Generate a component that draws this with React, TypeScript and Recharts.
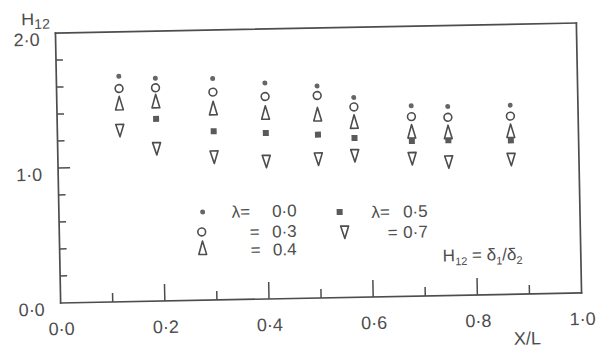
import React from "react";
import { ScatterChart, Scatter, XAxis, YAxis } from "recharts";

// measuring stations along the plate
const stations = [0.12, 0.19, 0.3, 0.4, 0.5, 0.57, 0.68, 0.75, 0.87];

// H12 for each lambda
const lambda00 = [1.67, 1.65, 1.64, 1.6, 1.57, 1.48, 1.41, 1.4, 1.4];
const lambda03 = [1.58, 1.58, 1.54, 1.5, 1.5, 1.41, 1.33, 1.32, 1.32];
const lambda04 = [1.47, 1.48, 1.42, 1.38, 1.36, 1.3, 1.22, 1.21, 1.21];
const lambda05 = [null, 1.35, 1.25, 1.23, 1.21, 1.18, 1.15, 1.15, 1.14];
const lambda07 = [1.27, 1.13, 1.06, 1.02, 1.03, 1.05, 1.02, 0.99, 1.0];

const xTicks = [0, 0.1, 0.2, 0.3, 0.4, 0.5, 0.6, 0.7, 0.8, 0.9, 1];
const xTickLabels = ["0·0", "", "0·2", "", "0·4", "", "0·6", "", "0·8", "", "1·0"];
const yTicks = [0, 0.2, 0.4, 0.6, 0.8, 1, 1.2, 1.4, 1.6, 1.8, 2];
const yTickLabels = ["0·0", "", "", "", "", "1·0", "", "", "", "", "2·0"];

const ink = "#4d4d4d";
const font = "'Liberation Sans', Arial, sans-serif";
const L = 50;
const T = 20;

const toPoints = (ys: (number | null)[]) =>
  stations.map((x, i) => ({ x, y: ys[i] })).filter((p) => p.y != null);

const Dot = ({ cx, cy }: any) => <circle cx={cx} cy={cy} r={2.5} fill="#666" />;
const Ring = ({ cx, cy }: any) => (
  <circle cx={cx} cy={cy} r={3.9} fill="none" stroke={ink} strokeWidth={1.6} />
);
const Tri = ({ cx, cy }: any) => (
  <path
    d={`M${cx},${cy - 7} L${cx + 3.9},${cy + 6.5} L${cx - 3.9},${cy + 6.5} Z`}
    fill="none"
    stroke={ink}
    strokeWidth={1.6}
    strokeLinejoin="round"
  />
);
const Sq = ({ cx, cy }: any) => (
  <rect x={cx - 3} y={cy - 3} width={6} height={6} fill="#5a5a5a" />
);
const InvTri = ({ cx, cy }: any) => (
  <path
    d={`M${cx - 4},${cy - 6} L${cx + 4},${cy - 6} L${cx},${cy + 6.5} Z`}
    fill="none"
    stroke={ink}
    strokeWidth={1.6}
    strokeLinejoin="round"
  />
);

const txt = { fontFamily: font, fontSize: 18, fill: ink };
const leg = { fontFamily: font, fontSize: 17, fill: ink };

const BottomTick = ({ x, y, index }: any) => {
  const len = index === 0 || index === 10 ? 0 : index % 2 === 0 ? 17 : 9;
  return (
    <g>
      {len > 0 && <line x1={x} x2={x} y1={y} y2={y - len} stroke={ink} strokeWidth={1.5} />}
      <text x={x + 0.5} y={y + 32} textAnchor="middle" {...txt}>
        {xTickLabels[index]}
      </text>
    </g>
  );
};

const TopTick = ({ x, y, index }: any) => {
  const len = index === 0 || index === 10 ? 0 : index % 2 === 0 ? 15 : 9;
  return len > 0 ? <line x1={x} x2={x} y1={y} y2={y + len} stroke={ink} strokeWidth={1.5} /> : <g />;
};

const LeftTick = ({ x, y, index }: any) => {
  const len = index === 0 || index === 10 ? 0 : index === 5 ? 12 : 7;
  return (
    <g>
      {len > 0 && <line x1={x} x2={x + len} y1={y} y2={y} stroke={ink} strokeWidth={1.5} />}
      <text x={x - 16} y={y + 12.5} textAnchor="end" {...txt}>
        {yTickLabels[index]}
      </text>
    </g>
  );
};

const RightTick = ({ x, y, index }: any) => {
  const len = index === 0 || index === 10 ? 0 : index === 5 ? 15 : 12;
  return len > 0 ? <line x1={x} x2={x - len} y1={y} y2={y} stroke={ink} strokeWidth={1.5} /> : <g />;
};

const axisLine = { stroke: ink, strokeWidth: 1.7, strokeLinecap: "square" as const };

export default function App() {
  return (
    <div style={{ position: "fixed", left: 0, top: 0, width: 606, height: 351, overflow: "hidden", background: "#fff" }}>
      <div style={{ position: "absolute", left: 8, top: 8, transform: "rotate(-1.1deg)", transformOrigin: "310.5px 155px" }}>
        <ScatterChart width={590} height={343} margin={{ top: T - 1, right: 18, bottom: 52, left: L - 1 }}>
          <XAxis
            xAxisId="b"
            type="number"
            dataKey="x"
            domain={[0, 1]}
            ticks={xTicks}
            interval={0}
            height={1}
            tickSize={0}
            tickMargin={0}
            tickLine={false}
            axisLine={axisLine}
            tick={BottomTick}
          />
          <XAxis
            xAxisId="t"
            orientation="top"
            type="number"
            domain={[0, 1]}
            ticks={xTicks}
            interval={0}
            height={1}
            tickSize={0}
            tickMargin={0}
            tickLine={false}
            axisLine={axisLine}
            tick={TopTick}
          />
          <YAxis
            yAxisId="l"
            type="number"
            dataKey="y"
            domain={[0, 2]}
            ticks={yTicks}
            interval={0}
            width={1}
            tickSize={0}
            tickMargin={0}
            tickLine={false}
            axisLine={axisLine}
            tick={LeftTick}
          />
          <YAxis
            yAxisId="r"
            orientation="right"
            type="number"
            domain={[0, 2]}
            ticks={yTicks}
            interval={0}
            width={1}
            tickSize={0}
            tickMargin={0}
            tickLine={false}
            axisLine={axisLine}
            tick={RightTick}
          />
          <Scatter xAxisId="b" yAxisId="l" name="λ = 0·0" data={toPoints(lambda00)} shape={Dot} isAnimationActive={false} />
          <Scatter xAxisId="b" yAxisId="l" name="= 0·3" data={toPoints(lambda03)} shape={Ring} isAnimationActive={false} />
          <Scatter xAxisId="b" yAxisId="l" name="= 0.4" data={toPoints(lambda04)} shape={Tri} isAnimationActive={false} />
          <Scatter xAxisId="b" yAxisId="l" name="λ = 0·5" data={toPoints(lambda05)} shape={Sq} isAnimationActive={false} />
          <Scatter xAxisId="b" yAxisId="l" name="= 0·7" data={toPoints(lambda07)} shape={InvTri} isAnimationActive={false} />

          {/* axis titles */}
          <text x={L - 34} y={T - 8.5} {...txt}>
            H<tspan fontSize={14} dy={4}>12</tspan>
          </text>
          <text x={L + 466} y={T + 270 + 50.5} textAnchor="middle" {...txt}>
            X/L
          </text>

          {/* legend */}
          <g>
            <Dot cx={L + 143.7} cy={T + 181.7} />
            <text x={L + 172.7} y={T + 188} {...leg}>λ=</text>
            <text x={L + 237.7} y={T + 188} textAnchor="end" {...leg}>0·0</text>
            <Ring cx={L + 142.4} cy={T + 201.7} />
            <text x={L + 190.4} y={T + 208.5} {...leg}>=</text>
            <text x={L + 237.4} y={T + 208.5} textAnchor="end" {...leg}>0·3</text>
            <Tri cx={L + 143} cy={T + 217.7} />
            <text x={L + 190.9} y={T + 226.5} {...leg}>=</text>
            <text x={L + 237} y={T + 226.5} textAnchor="end" {...leg}>0.4</text>
            <Sq cx={L + 280.7} cy={T + 184.4} />
            <text x={L + 312.4} y={T + 191} {...leg}>λ=</text>
            <text x={L + 368.7} y={T + 191} textAnchor="end" {...leg}>0·5</text>
            <InvTri cx={L + 285.4} cy={T + 204.5} />
            <text x={L + 328.4} y={T + 211.5} {...leg}>=</text>
            <text x={L + 368.4} y={T + 211.5} textAnchor="end" {...leg}>0·7</text>
            <text x={L + 382.9} y={T + 235.8} {...leg}>
              H<tspan fontSize={11} dy={4}>12</tspan>
              <tspan dy={-4}> = δ</tspan>
              <tspan fontSize={11} dy={4}>1</tspan>
              <tspan dy={-4}>/δ</tspan>
              <tspan fontSize={11} dy={4}>2</tspan>
            </text>
          </g>
        </ScatterChart>
      </div>
    </div>
  );
}
